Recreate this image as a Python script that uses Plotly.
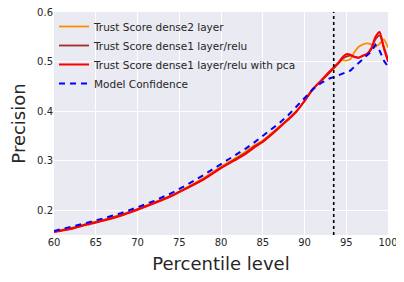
import plotly.graph_objects as go

x_vals = [60, 62, 64, 66, 68, 70, 72, 74, 76, 78, 80, 82, 83, 84, 85, 86, 87, 88, 89, 90,
          91, 92, 93, 94, 94.5, 95, 95.5, 96, 96.5, 97, 97.5, 98, 98.5, 99, 99.5, 100]

dense2 = [0.158, 0.164, 0.173, 0.181, 0.191, 0.203, 0.216, 0.230, 0.247, 0.266, 0.288, 0.308, 0.319,
          0.331, 0.341, 0.355, 0.369, 0.384, 0.400, 0.421, 0.445, 0.462, 0.478, 0.495, 0.503, 0.502,
          0.505, 0.520, 0.530, 0.535, 0.537, 0.535, 0.530, 0.536, 0.545, 0.528]
dense1 = [0.157, 0.163, 0.172, 0.180, 0.190, 0.202, 0.215, 0.229, 0.246, 0.264, 0.286, 0.306, 0.316,
          0.329, 0.339, 0.353, 0.368, 0.383, 0.399, 0.420, 0.444, 0.461, 0.478, 0.496, 0.505, 0.510,
          0.512, 0.510, 0.508, 0.512, 0.515, 0.525, 0.545, 0.553, 0.530, 0.505]
dense1_pca = [0.156, 0.162, 0.171, 0.179, 0.189, 0.201, 0.214, 0.228, 0.245, 0.263, 0.285, 0.304, 0.314,
              0.327, 0.338, 0.352, 0.367, 0.382, 0.398, 0.421, 0.445, 0.462, 0.480, 0.497, 0.508, 0.515,
              0.514, 0.509, 0.508, 0.512, 0.516, 0.527, 0.550, 0.560, 0.527, 0.500]
confidence = [0.158, 0.166, 0.175, 0.184, 0.194, 0.206, 0.219, 0.234, 0.252, 0.272, 0.293, 0.314, 0.325,
              0.337, 0.350, 0.362, 0.376, 0.391, 0.408, 0.426, 0.444, 0.457, 0.466, 0.472, 0.475, 0.478,
              0.482, 0.490, 0.497, 0.505, 0.513, 0.520, 0.534, 0.522, 0.502, 0.490]

threshold = 93.5
x_ticks = [60, 65, 70, 75, 80, 85, 90, 95, 100]
y_ticks = [0.2, 0.3, 0.4, 0.5, 0.6]
y_tick_labels = ["0.2", "0.3", "0.4", "0.5", "0.6"]

fig = go.Figure()
fig.add_trace(go.Scatter(x=x_vals, y=dense2, mode="lines", name="Trust Score dense2 layer",
                         line=dict(color="#FF8C00", width=1.8, shape="spline", smoothing=0.6)))
fig.add_trace(go.Scatter(x=x_vals, y=dense1, mode="lines", name="Trust Score dense1 layer/relu",
                         line=dict(color="#A52A2A", width=1.8, shape="spline", smoothing=0.6)))
fig.add_trace(go.Scatter(x=x_vals, y=dense1_pca, mode="lines", name="Trust Score dense1 layer/relu with pca",
                         line=dict(color="#FF0000", width=2, shape="spline", smoothing=0.6)))
fig.add_trace(go.Scatter(x=x_vals, y=confidence, mode="lines", name="Model Confidence",
                         line=dict(color="#0000FF", width=2, dash="6px,5px")))

fig.add_shape(type="line", x0=threshold, x1=threshold, y0=0, y1=1, xref="x", yref="paper",
              line=dict(color="black", width=1.6, dash="dot"))

fig.update_layout(
    width=396, height=274,
    margin=dict(l=46, r=16, t=4, b=47, autoexpand=False),
    paper_bgcolor="white", plot_bgcolor="#EAEAF2",
    font=dict(family="DejaVu Sans", color="#262626"),
    showlegend=True,
    legend=dict(x=0.0, y=1.0, xanchor="left", yanchor="top", bgcolor="rgba(0,0,0,0)",
                font=dict(size=10.5, color="#262626"), tracegroupgap=0, itemwidth=30),
)
fig.update_xaxes(range=[60, 100.0001], tickvals=x_ticks, showgrid=True, gridcolor="white", gridwidth=1,
                 zeroline=False, showline=False, ticks="", automargin=False,
                 ticklabeloverflow="allow", tickfont=dict(size=10, color="#262626"),
                 title=dict(text="Percentile level", font=dict(size=18, color="#262626"), standoff=10))
fig.update_yaxes(range=[0.15, 0.6002], tickvals=y_ticks, ticktext=y_tick_labels, showgrid=True,
                 gridcolor="white", gridwidth=1, zeroline=False, showline=False, ticks="",
                 automargin=False, ticklabeloverflow="allow", tickfont=dict(size=10, color="#262626"),
                 title=dict(text="Precision", font=dict(size=18, color="#262626"), standoff=8))

fig.write_html("out.html")
